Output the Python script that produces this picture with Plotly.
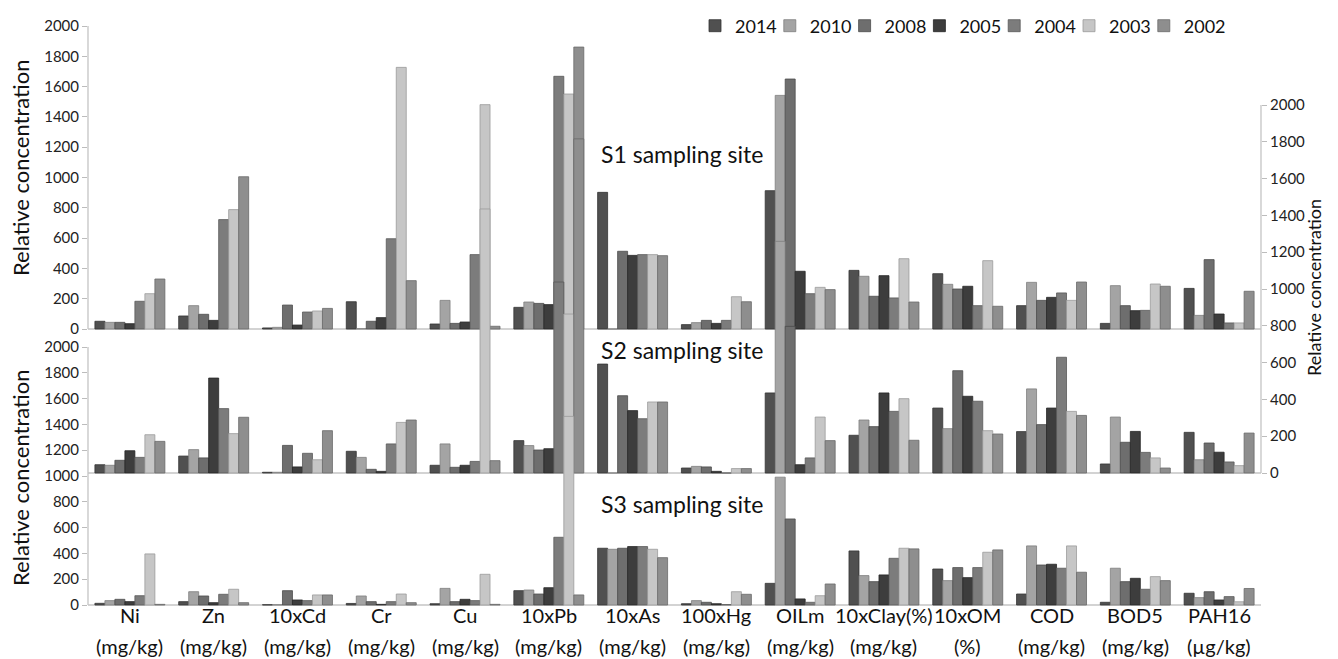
import plotly.graph_objects as go

CATEGORIES = ["Ni", "Zn", "10xCd", "Cr", "Cu", "10xPb", "10xAs", "100xHg", "OILm",
              "10xClay(%)", "10xOM", "COD", "BOD5", "PAH16"]
UNITS = ["(mg/kg)", "(mg/kg)", "(mg/kg)", "(mg/kg)", "(mg/kg)", "(mg/kg)", "(mg/kg)",
         "(mg/kg)", "(mg/kg)", "(mg/kg)", "(%)", "(mg/kg)", "(mg/kg)", "(µg/kg)"]
YEARS = ["2014", "2010", "2008", "2005", "2004", "2003", "2002"]
TICKS = [0, 200, 400, 600, 800, 1000, 1200, 1400, 1600, 1800, 2000]

# S1 sampling site (left axis, top panel) - one row per year
S1 = [
    [51, 86, 7, 180, 33, 143, 902, 29, 913, 387, 365, 154, 37, 268],
    [44, 154, 11, 2, 189, 178, 0, 42, 1542, 348, 295, 308, 286, 90],
    [44, 97, 158, 51, 37, 169, 513, 57, 1650, 216, 264, 189, 154, 458],
    [35, 57, 26, 75, 46, 161, 486, 37, 381, 352, 282, 209, 121, 99],
    [183, 722, 112, 596, 491, 1668, 491, 57, 233, 205, 154, 238, 123, 40],
    [233, 788, 119, 1727, 1481, 1551, 491, 213, 275, 464, 451, 189, 297, 40],
    [330, 1005, 136, 319, 18, 1861, 484, 180, 260, 178, 150, 310, 282, 249],
]
# S2 sampling site (right axis, middle panel)
S2 = [
    [45, 92, 4, 118, 42, 176, 592, 27, 435, 205, 353, 225, 49, 221],
    [42, 127, 4, 85, 158, 149, 0, 36, 1259, 288, 241, 457, 304, 72],
    [69, 82, 150, 20, 31, 125, 420, 33, 797, 252, 556, 263, 167, 163],
    [121, 516, 33, 9, 42, 132, 339, 9, 45, 435, 417, 353, 226, 113],
    [85, 350, 107, 158, 63, 1038, 295, 0, 82, 335, 390, 629, 112, 60],
    [208, 214, 72, 275, 1435, 864, 386, 24, 304, 404, 230, 335, 82, 40],
    [172, 303, 230, 288, 67, 1816, 386, 24, 176, 178, 212, 313, 27, 217],
]
# S3 sampling site (left axis, bottom panel)
S3 = [
    [13, 26, 2, 12, 10, 111, 440, 10, 168, 419, 279, 85, 21, 91],
    [34, 103, 2, 70, 129, 116, 432, 34, 991, 228, 189, 458, 285, 57],
    [44, 70, 111, 26, 26, 85, 440, 21, 667, 181, 290, 310, 181, 103],
    [26, 18, 39, 5, 44, 134, 453, 10, 47, 233, 212, 316, 207, 39],
    [72, 83, 34, 26, 34, 525, 453, 3, 21, 362, 290, 285, 122, 65],
    [396, 122, 78, 85, 238, 1462, 432, 103, 72, 440, 409, 458, 220, 25],
    [5, 18, 78, 18, 5, 78, 367, 83, 163, 435, 427, 254, 189, 128],
]

COLORS = ["#505050", "#a4a4a4", "#6e6e6e", "#3d3d3d", "#7c7c7c", "#c6c6c6", "#8e8e8e"]
EDGES = ["#333333", "#7d7d7d", "#4d4d4d", "#262626", "#595959", "#9a9a9a", "#6a6a6a"]
FONT = "Lato"

W, H = 1338, 659
ML, MR, MT, MB = 80, 85, 10, 59
PTOP, PBOT = MT, H - MB
PW = W - ML - MR
PH = PBOT - PTOP


def axis_range(zero_px, top_px):
    scale = (zero_px - top_px) / 2000.0
    return [-(PBOT - zero_px) / scale, 2000 + (top_px - PTOP) / scale]


def py(px):
    return (PBOT - px) / PH


def pxx(px):
    return (px - ML) / PW


def legend_name(i):
    return "legend" if i == 0 else f"legend{i + 1}"


fig = go.Figure()
bw = 0.1193
start = -0.4175
sites = [(S1, "y"), (S2, "y2"), (S3, "y3")]
for s, (data, ax) in enumerate(sites):
    for i, yr in enumerate(YEARS):
        fig.add_trace(go.Bar(
            x=CATEGORIES, y=data[i], yaxis=ax, name=yr,
            width=bw, offset=start + i * bw,
            marker=dict(color=COLORS[i], line=dict(color=EDGES[i], width=0.8)),
            showlegend=(s == 0), legendgroup=yr, legend=legend_name(i),
        ))

tickfont = dict(family=FONT, size=15, color="#222222")
common = dict(tickvals=TICKS, showgrid=False, zeroline=False, showline=False,
              ticks="outside", ticklen=5, tickcolor="#bcbcbc", tickfont=tickfont,
              automargin=False, tickangle=0)

fig.update_layout(
    width=W, height=H,
    margin=dict(l=ML, r=MR, t=MT, b=MB, pad=0, autoexpand=False),
    paper_bgcolor="white", plot_bgcolor="white",
    barmode="overlay",
    font=dict(family=FONT, color="#111111"),
    xaxis=dict(tickvals=CATEGORIES, showticklabels=False,
               showgrid=False, showline=False, zeroline=False, ticks="",
               automargin=False, range=[-0.5, len(CATEGORIES) - 0.5]),
    yaxis=dict(range=axis_range(321, 18), side="left", **common),
    yaxis2=dict(range=axis_range(465, 97), side="right", overlaying="y", anchor="x", **common),
    yaxis3=dict(range=axis_range(597, 339), side="left", overlaying="y", anchor="x", **common),
)

legends = {}
for i in range(len(YEARS)):
    legends[legend_name(i)] = dict(
        orientation="h", x=pxx(687 + 74.8 * i), xanchor="left", y=py(18), yanchor="middle",
        font=dict(family=FONT, size=18, color="#111111"), itemwidth=30,
        bgcolor="rgba(0,0,0,0)")
fig.update_layout(**legends)

line_col = "#c4c4c4"
shapes = [
    dict(type="line", xref="paper", yref="y", x0=0, x1=0, y0=0, y1=2000),
    dict(type="line", xref="paper", yref="y3", x0=0, x1=0, y0=0, y1=2000),
    dict(type="line", xref="paper", yref="y2", x0=1, x1=1, y0=0, y1=2000),
    dict(type="line", xref="paper", yref="y", x0=0, x1=1, y0=0, y1=0),
    dict(type="line", xref="paper", yref="y2", x0=0, x1=1, y0=0, y1=0),
    dict(type="line", xref="paper", yref="y3", x0=0, x1=1, y0=0, y1=0),
]
for sh in shapes:
    sh["line"] = dict(color=line_col, width=1.3)
    sh["layer"] = "below"
fig.update_layout(shapes=shapes)

ann = []
for c, u in zip(CATEGORIES, UNITS):
    ann.append(dict(text=c, xref="x", yref="paper", x=c, y=py(607), xanchor="center",
                    yanchor="middle", showarrow=False,
                    font=dict(family=FONT, size=20, color="#111111")))
    ann.append(dict(text=u, xref="x", yref="paper", x=c, y=py(638), xanchor="center",
                    yanchor="middle", showarrow=False,
                    font=dict(family=FONT, size=20, color="#111111")))
for label, ypx in [("S1 sampling site", 146), ("S2 sampling site", 342), ("S3 sampling site", 496)]:
    ann.append(dict(text=label, xref="paper", yref="paper", x=pxx(674), y=py(ypx),
                    xanchor="center", yanchor="middle",
                    showarrow=False, font=dict(family=FONT, size=23, color="#111111")))
for ypx in [160, 470]:
    ann.append(dict(text="Relative concentration", xref="paper", yref="paper",
                    x=pxx(12), y=py(ypx), xanchor="center", yanchor="middle",
                    textangle=-90, showarrow=False,
                    font=dict(family=FONT, size=22, color="#111111")))
ann.append(dict(text="Relative concentration", xref="paper", yref="paper",
                x=pxx(1306), y=py(280), xanchor="center", yanchor="middle",
                textangle=-90, showarrow=False,
                font=dict(family=FONT, size=18, color="#111111")))
fig.update_layout(annotations=ann)

fig.write_html("out.html")
